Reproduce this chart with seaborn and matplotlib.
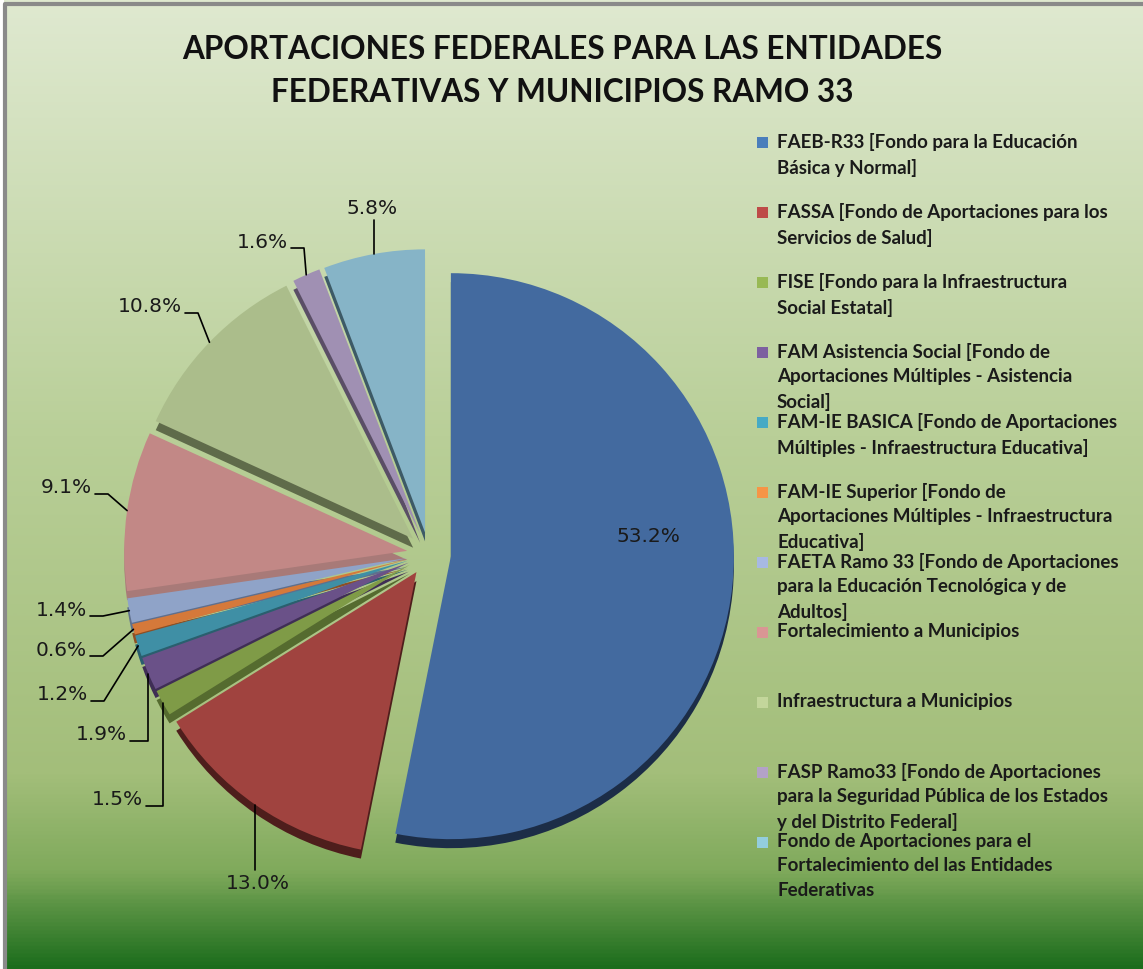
import numpy as np
import matplotlib
matplotlib.use("Agg")
import matplotlib.pyplot as plt
from matplotlib.colors import LinearSegmentedColormap
from matplotlib.patches import Rectangle
import seaborn as sns

# --- datos ---
fondos = [
    "FAEB-R33 [Fondo para la Educación\nBásica y Normal]",
    "FASSA [Fondo de Aportaciones para los\nServicios de Salud]",
    "FISE [Fondo para la Infraestructura\nSocial Estatal]",
    "FAM Asistencia Social [Fondo de\nAportaciones Múltiples - Asistencia\nSocial]",
    "FAM-IE BASICA [Fondo de Aportaciones\nMúltiples - Infraestructura Educativa]",
    "FAM-IE Superior [Fondo de\nAportaciones Múltiples - Infraestructura\nEducativa]",
    "FAETA Ramo 33 [Fondo de Aportaciones\npara la Educación Tecnológica y de\nAdultos]",
    "Fortalecimiento a Municipios",
    "Infraestructura a Municipios",
    "FASP Ramo33 [Fondo de Aportaciones\npara la Seguridad Pública de los Estados\ny del Distrito Federal]",
    "Fondo de Aportaciones para el\nFortalecimiento del las Entidades\nFederativas",
]
porcentajes = [53.2, 13.0, 1.5, 1.9, 1.2, 0.6, 1.4, 9.1, 10.8, 1.6, 5.8]
etiquetas = [f"{p:.1f}%" for p in porcentajes]

titulo = "APORTACIONES FEDERALES PARA LAS ENTIDADES\nFEDERATIVAS Y MUNICIPIOS RAMO 33"

# --- estilos ---
colores_leyenda = ['#4a7ebb', '#be4b48', '#98b954', '#7d60a0', '#46aac5', '#f69546',
                   '#a7b9e3', '#d99694', '#c3d69b', '#b3a2c7', '#93cddd']
colores_pie = ['#436a9f', '#a0433f', '#7f9b47', '#6a5188', '#3f8fa5', '#d5793a',
               '#8fa3c8', '#c28886', '#abbd8b', '#a090b3', '#86b4c7']
colores_lado = ['#1c2d47', '#4e1e1c', '#556b2f', '#3f2e55', '#2a5f6e', '#8e4f24',
                '#5f6f8d', '#a87a78', '#5f6b4a', '#5a4e66', '#3d5a66']

# posicion de etiquetas (pixeles de imagen): x, y, tipo de guia
pos_etiquetas = [(648, 537, 'in'), (258, 884, 'v'), (143, 800, 'hv'), (127, 735, 'hv'),
                 (88, 695, 'h'), (87, 650, 'h'), (87, 610, 'h'), (92, 488, 'h'),
                 (182, 307, 'h'), (288, 242, 'h'), (372, 208, 'v')]

sns.set_theme(style="white")
plt.rcParams['font.family'] = ['Lato', 'DejaVu Sans']

W, H = 1143, 970
fig = plt.figure(figsize=(W / 100, H / 100), dpi=100)

# fondo degradado
bg = fig.add_axes([0, 0, 1, 1], zorder=0)
cmap = LinearSegmentedColormap.from_list(
    'fondo', [(0, '#dfe9d0'), (0.45, '#b9cf98'), (0.8, '#a3be7a'), (0.9, '#80aa5c'), (1, '#1c6d1c')])
bg.imshow(np.linspace(0, 1, 500).reshape(-1, 1), aspect='auto', cmap=cmap,
          extent=[0, 1, 0, 1], origin='upper')
bg.axis('off')

ax = fig.add_axes([0, 0, 1, 1], zorder=1)
ax.patch.set_alpha(0)

cx, cy, R, sep = 429, H - 555, 283, 22
ax.pie(porcentajes, radius=R, center=(cx, cy - 9), startangle=90, counterclock=False,
       explode=[sep] * len(porcentajes), colors=colores_lado, wedgeprops=dict(linewidth=0))
wedges, _ = ax.pie(porcentajes, radius=R, center=(cx, cy), startangle=90, counterclock=False,
                   explode=[sep] * len(porcentajes), colors=colores_pie,
                   wedgeprops=dict(linewidth=0))
ax.set_xlim(0, W)
ax.set_ylim(0, H)
ax.set_aspect('equal')
ax.axis('off')

# etiquetas de porcentaje con lineas guia
for w, txt, (lx, ly, tipo) in zip(wedges, etiquetas, pos_etiquetas):
    ly = H - ly
    th = np.deg2rad((w.theta1 + w.theta2) / 2)
    ex = w.center[0] + w.r * np.cos(th)
    ey = w.center[1] + w.r * np.sin(th)
    kw = dict(fontsize=14.5, color='#1a1a1a', va='center', family=['DejaVu Sans'])
    if tipo == 'in':
        ax.text(lx, ly, txt, ha='center', **kw)
        continue
    if tipo == 'v':
        ax.text(lx, ly, txt, ha='center', **kw)
        y0 = ly + 13 if ey > ly else ly - 13
        ax.plot([ex, ex], [y0, ey], color='black', lw=1.2)
    elif tipo == 'hv':
        ax.text(lx, ly, txt, ha='right', **kw)
        ax.plot([lx + 3, ex, ex], [ly - 7, ly - 7, ey], color='black', lw=1.2)
    else:
        ax.text(lx, ly, txt, ha='right', **kw)
        ax.plot([lx + 3, lx + 16, ex], [ly - 7, ly - 7, ey], color='black', lw=1.2)

# leyenda
for i, (nombre, col) in enumerate(zip(fondos, colores_leyenda)):
    y = H - (143 + 70 * i)
    ax.add_patch(Rectangle((757, y - 5.5), 11, 11, color=col, lw=0))
    ax.text(777, y + 10, nombre, ha='left', va='top', fontsize=13.5, fontweight='bold',
            color='#1a1a1a', linespacing=1.52)

# titulo
ax.text(562, H - 71, titulo, ha='center', va='center', fontsize=22.7, fontweight='bold',
        color='#111111', linespacing=1.58)

# marco
ax.add_patch(Rectangle((0, 0), 4, H, color='white', lw=0))
ax.plot([5, 5, W], [0, H - 5, H - 5], color='#8a8a8a', lw=3)

fig.savefig('out.png', dpi=100)
